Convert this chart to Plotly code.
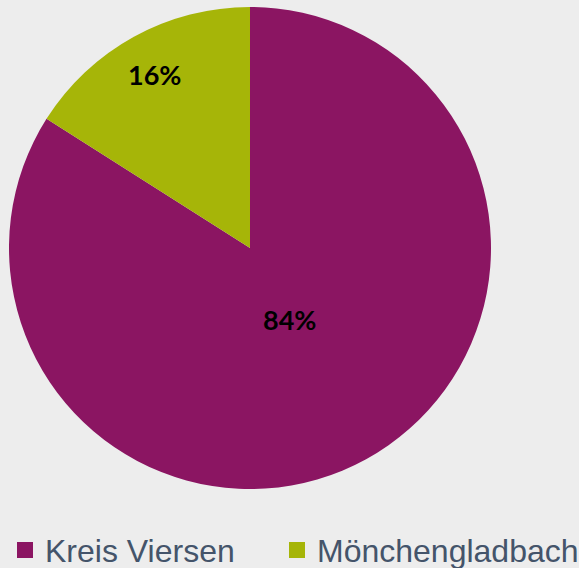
import math
import plotly.graph_objects as go

labels = ["Kreis Viersen", "Mönchengladbach"]
values = [84, 16]
colors = ["#8B1562", "#A6B508"]

W, H = 579, 568
# pie geometry (pixels)
cx, cy, R = 250, 248, 241
label_radius_frac = [0.34, 0.82]
legend_x_px = [5, 277]

fig = go.Figure(go.Pie(
    labels=labels,
    values=values,
    sort=False,
    direction="clockwise",
    rotation=0,
    marker=dict(colors=colors, line=dict(width=0)),
    textinfo="none",
    domain=dict(x=[(cx - R) / W, (cx + R) / W], y=[1 - (cy + R) / H, 1 - (cy - R) / H]),
    hoverinfo="label+percent",
    showlegend=False,
))

# percentage labels placed along each slice's mid-angle
total = sum(values)
start = 0.0
for v, frac in zip(values, label_radius_frac):
    mid = (start + v / 2) / total * 2 * math.pi
    start += v
    px = cx + R * frac * math.sin(mid)
    py = cy - R * frac * math.cos(mid)
    fig.add_annotation(
        x=px / W, y=1 - py / H, xref="paper", yref="paper",
        xanchor="center", yanchor="middle",
        text=f"<b>{round(v / total * 100)}%</b>", showarrow=False,
        font=dict(family="Lato, Open Sans, sans-serif", size=27, color="black"),
    )

# legend entries (one legend per category so they can be spaced like the original)
legend_font = dict(family="Liberation Sans, Arial, sans-serif", size=32, color="#44546A")
legend_layout = {}
for i, (lab, col) in enumerate(zip(labels, colors)):
    lname = "legend" if i == 0 else f"legend{i + 1}"
    fig.add_trace(go.Scatter(
        x=[None], y=[None], mode="markers", name=lab,
        marker=dict(symbol="square", size=16, color=col),
        legend=lname, showlegend=True, hoverinfo="skip",
    ))
    legend_layout[lname] = dict(
        orientation="h",
        x=legend_x_px[i] / W, xanchor="left",
        y=-0.017, yanchor="bottom",
        font=legend_font,
        itemsizing="trace",
        itemclick=False, itemdoubleclick=False,
        bgcolor="rgba(0,0,0,0)",
    )

fig.update_layout(
    width=W, height=H,
    margin=dict(l=0, r=0, t=0, b=0, autoexpand=False),
    paper_bgcolor="#EDEDED",
    plot_bgcolor="#EDEDED",
    xaxis=dict(visible=False),
    yaxis=dict(visible=False),
    **legend_layout,
)

fig.write_html("out.html", config={"displayModeBar": False})

with open("out.html", encoding="utf-8") as f:
    html = f.read()
html = html.replace("<head>", "<head><style>html,body{margin:0;padding:0;background:#EDEDED;}</style>", 1)
with open("out.html", "w", encoding="utf-8") as f:
    f.write(html)
